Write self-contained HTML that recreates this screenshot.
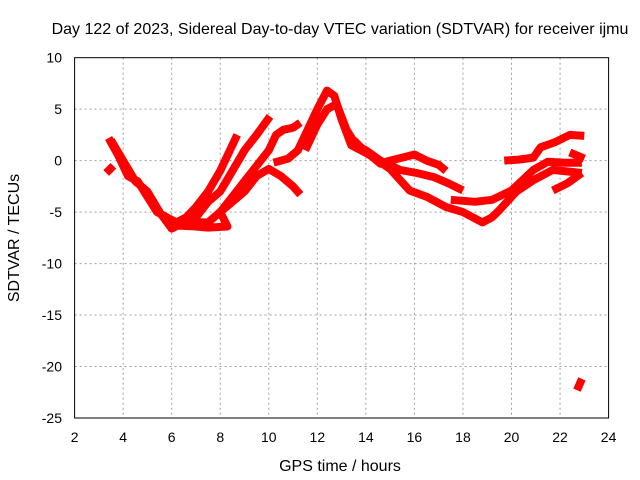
<!DOCTYPE html>
<html><head><meta charset="utf-8"><style>
body{margin:0;background:#fff}
svg{display:block;font-family:"Liberation Sans",sans-serif}
</style></head><body>
<svg id="chart" width="640" height="480">
<text x="340" y="34" font-size="16" text-anchor="middle">Day 122 of 2023, Sidereal Day-to-day VTEC variation (SDTVAR) for receiver ijmu</text>
<text x="340" y="471" font-size="16" text-anchor="middle">GPS time / hours</text>
<text transform="translate(19,238) rotate(-90)" font-size="16" text-anchor="middle">SDTVAR / TECUs</text>
<g id="grid"></g><g id="ticks"></g><g id="series"></g>
<rect x="74.6" y="57.7" width="534" height="360.3" fill="none" stroke="#000" stroke-width="1"/>
</svg>
<script>
const xTicks=[2,4,6,8,10,12,14,16,18,20,22,24];
const yTicks=[10,5,0,-5,-10,-15,-20,-25];
const track1=[[3.4,2.2],[3.8,0.5],[4.2,-1.5],[4.6,-2],[5,-3.5],[5.4,-5],[5.8,-5.5],[6.2,-6],[6.6,-5.5],[7,-4.5],[7.5,-3],[8,-1],[8.4,1],[8.7,2.5]];
const track2=[[3.5,2],[4,0],[4.5,-2],[5,-3],[5.5,-5],[6,-6.6],[6.5,-6],[7,-5.5],[7.5,-4],[8,-3],[8.5,-1],[9,1],[9.5,2.5],[10.05,4.3]];
const track3=[[6.5,-6],[7,-6],[7.5,-6],[8,-5],[8.5,-3.5],[9,-2],[9.5,-0.5],[10,1],[10.3,2.5],[10.6,3],[11,3.2],[11.3,3.7]];
const track4=[[6.2,-6.3],[7,-6.4],[7.5,-6.5],[8.3,-6.4],[8,-5],[8.5,-4],[9,-3],[9.5,-1.5],[10,-0.8],[10.5,-1.5],[11,-2.5],[11.3,-3.3]];
const track5=[[10.2,-0.2],[10.8,0.2],[11.2,1],[11.6,3],[12,5],[12.4,6.8],[12.7,6.3],[13,4],[13.4,1.5],[13.8,1],[14.2,0.5],[14.6,-0.3],[15,0],[15.5,0.3],[16,0.6],[16.5,0],[17,-0.4],[17.3,-1]];
const track6=[[11.5,1],[12,3.5],[12.4,5],[12.8,5.5],[13.2,3],[13.6,1.5],[14,1],[14.6,0],[15.4,-0.9],[16.1,-1.2],[16.8,-1.6],[17.4,-2.2],[18,-2.9]];
const track7=[[13.5,2],[14,0.8],[15,-0.8],[15.8,-2.9],[16.5,-3.5],[17.3,-4.5],[18,-5],[18.8,-6],[19.2,-5.5],[19.5,-4.8],[20.2,-3],[20.9,-1.9],[21.7,-0.9],[22.9,-1.2]];
const track8=[[17.5,-3.8],[18.5,-4],[19.2,-3.8],[20,-2.9],[20.9,-0.9],[21.5,-0.1],[22.2,-0.2],[22.9,-0.2]];
const track9=[[19.7,0],[20.3,0.1],[20.9,0.3],[21.2,1.3],[21.8,1.8],[22.4,2.5],[23,2.4]];
const track10=[[21.7,-2.9],[22.3,-2.2],[22.9,-1.2]];
const track11=[[22.4,0.8],[23,0.2]];
const track12=[[22.7,-22.3],[22.9,-21.2]];
const track13=[[3.3,-1.2],[3.6,-0.5]];
const tracks=[track1,track2,track3,track4,track5,track6,track7,track8,track9,track10,track11,track12,track13];
const X0=74.6,X1=608.6,Y0=418,Y1=57.7;
function sx(t){return X0+(t-2)/(24-2)*(X1-X0);}
function sy(v){return Y0-(v+25)/(10+25)*(Y0-Y1);}
const NS="http://www.w3.org/2000/svg";
const grid=document.getElementById('grid'),ticks=document.getElementById('ticks'),series=document.getElementById('series');
xTicks.forEach(t=>{
 const x=sx(t);
 if(t>2&&t<24){const l=document.createElementNS(NS,'line');
 l.setAttribute('x1',x);l.setAttribute('x2',x);l.setAttribute('y1',Y1);l.setAttribute('y2',Y0);
 l.setAttribute('stroke','#a0a0a0');l.setAttribute('stroke-dasharray','2,3');
 
 
 grid.appendChild(l);}
 const tx=document.createElementNS(NS,'text');
 tx.setAttribute('x',x);tx.setAttribute('y',442);tx.setAttribute('font-size','14');tx.setAttribute('text-anchor','middle');
 tx.textContent=t;
 
 
 ticks.appendChild(tx);
});
yTicks.forEach(v=>{
 const y=sy(v);
 if(v>-25&&v<10){const l=document.createElementNS(NS,'line');
 l.setAttribute('x1',X0);l.setAttribute('x2',X1);l.setAttribute('y1',y);l.setAttribute('y2',y);
 l.setAttribute('stroke','#a0a0a0');l.setAttribute('stroke-dasharray','2,3');
 
 
 grid.appendChild(l);}
 const tx=document.createElementNS(NS,'text');
 tx.setAttribute('x',62);tx.setAttribute('y',y+5);tx.setAttribute('font-size','14');tx.setAttribute('text-anchor','end');
 tx.textContent=v;
 
 
 ticks.appendChild(tx);
});
tracks.forEach(tr=>{
 const p=document.createElementNS(NS,'polyline');
 p.setAttribute('points',tr.map(d=>sx(d[0]).toFixed(1)+','+sy(d[1]).toFixed(1)).join(' '));
 p.setAttribute('fill','none');p.setAttribute('stroke','#ff0000');p.setAttribute('stroke-width','8');
 p.setAttribute('stroke-linejoin','round');
 
 
 series.appendChild(p);
});
</script>
</body></html>
